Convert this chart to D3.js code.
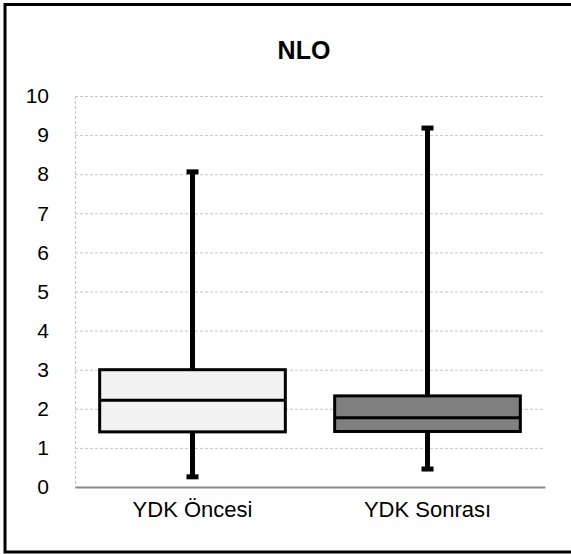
<!DOCTYPE html>
<html>
<head>
<meta charset="utf-8">
<script src="https://cdn.jsdelivr.net/npm/d3@7"></script>
<style>
  body { margin: 0; background: #fff; }
  text { font-family: "Liberation Sans", Arial, sans-serif; }
</style>
</head>
<body>
<div id="chart"></div>
<script>
var categories = ['YDK Öncesi', 'YDK Sonrası'];
var mins = [0.26, 0.46];
var q1s = [1.41, 1.42];
var medians = [2.22, 1.77];
var q3s = [3.0, 2.33];
var maxs = [8.06, 9.18];
var fills = ['#f2f2f2', '#808080'];
var yTicks = [0, 1, 2, 3, 4, 5, 6, 7, 8, 9, 10];

var W = 571, H = 554;
var svg = d3.select('#chart').append('svg')
  .attr('width', W)
  .attr('height', H);

// outer frame (right side runs off the picture)
svg.append('rect')
  .attr('x', 5).attr('y', 4.5)
  .attr('width', 620).attr('height', 547.5)
  .attr('fill', '#fff')
  .attr('stroke', '#000')
  .attr('stroke-width', 3);

var pLeft = 75, pRight = 545, pTop = 96, pBottom = 487;

var x = d3.scaleBand().domain(categories).range([pLeft, pRight]).padding(0);
var y = d3.scaleLinear().domain([0, 10]).range([pBottom, pTop]);

// grid
svg.append('g').selectAll('line')
  .data(yTicks.filter(function(d) { return d > 0; }))
  .enter().append('line')
    .attr('x1', pLeft).attr('x2', pRight)
    .attr('y1', function(d) { return y(d) + 0.5; })
    .attr('y2', function(d) { return y(d) + 0.5; })
    .attr('stroke', '#c4c4c4')
    .attr('stroke-dasharray', '3,2');

svg.append('line')
  .attr('x1', pLeft + 0.5).attr('x2', pLeft + 0.5)
  .attr('y1', pTop).attr('y2', pBottom)
  .attr('stroke', '#c4c4c4')
  .attr('stroke-dasharray', '3,2');

// y axis labels
var yAxis = d3.axisLeft(y).tickValues(yTicks).tickSize(0).tickPadding(26);
var ya = svg.append('g').attr('transform', 'translate(' + pLeft + ',0)').call(yAxis);
ya.select('.domain').remove();
ya.selectAll('text')
  .attr('font-size', 21)
  .attr('fill', '#000')
  .attr('font-family', '"Liberation Sans", Arial, sans-serif');

// x axis
var xAxis = d3.axisBottom(x).tickSize(0).tickPadding(14);
var xa = svg.append('g').attr('transform', 'translate(0,' + pBottom + ')').call(xAxis);
xa.select('.domain').attr('stroke', '#898989').attr('stroke-width', 2);
xa.selectAll('text')
  .attr('font-size', 22)
  .attr('fill', '#000')
  .attr('font-family', '"Liberation Sans", Arial, sans-serif');

// boxes
var bw = x.bandwidth() * 0.79;
var g = svg.append('g');
categories.forEach(function(c, i) {
  var cx = x(c) + x.bandwidth() / 2;

  g.append('line')
    .attr('x1', cx).attr('x2', cx)
    .attr('y1', y(q3s[i])).attr('y2', y(maxs[i]))
    .attr('stroke', '#000').attr('stroke-width', 5);
  g.append('line')
    .attr('x1', cx).attr('x2', cx)
    .attr('y1', y(q1s[i])).attr('y2', y(mins[i]))
    .attr('stroke', '#000').attr('stroke-width', 5);

  [maxs[i], mins[i]].forEach(function(v) {
    g.append('rect')
      .attr('x', cx - 6).attr('y', y(v) - 2.5)
      .attr('width', 12).attr('height', 5)
      .attr('fill', '#000');
  });

  g.append('rect')
    .attr('x', cx - bw / 2).attr('y', y(q3s[i]))
    .attr('width', bw).attr('height', y(q1s[i]) - y(q3s[i]))
    .attr('fill', fills[i])
    .attr('stroke', '#000').attr('stroke-width', 3);

  g.append('line')
    .attr('x1', cx - bw / 2).attr('x2', cx + bw / 2)
    .attr('y1', y(medians[i])).attr('y2', y(medians[i]))
    .attr('stroke', '#000').attr('stroke-width', 3);
});

// title
svg.append('text')
  .attr('x', 304).attr('y', 59)
  .attr('text-anchor', 'middle')
  .attr('font-size', 25)
  .attr('font-weight', 'bold')
  .text('NLO');
</script>
</body>
</html>
